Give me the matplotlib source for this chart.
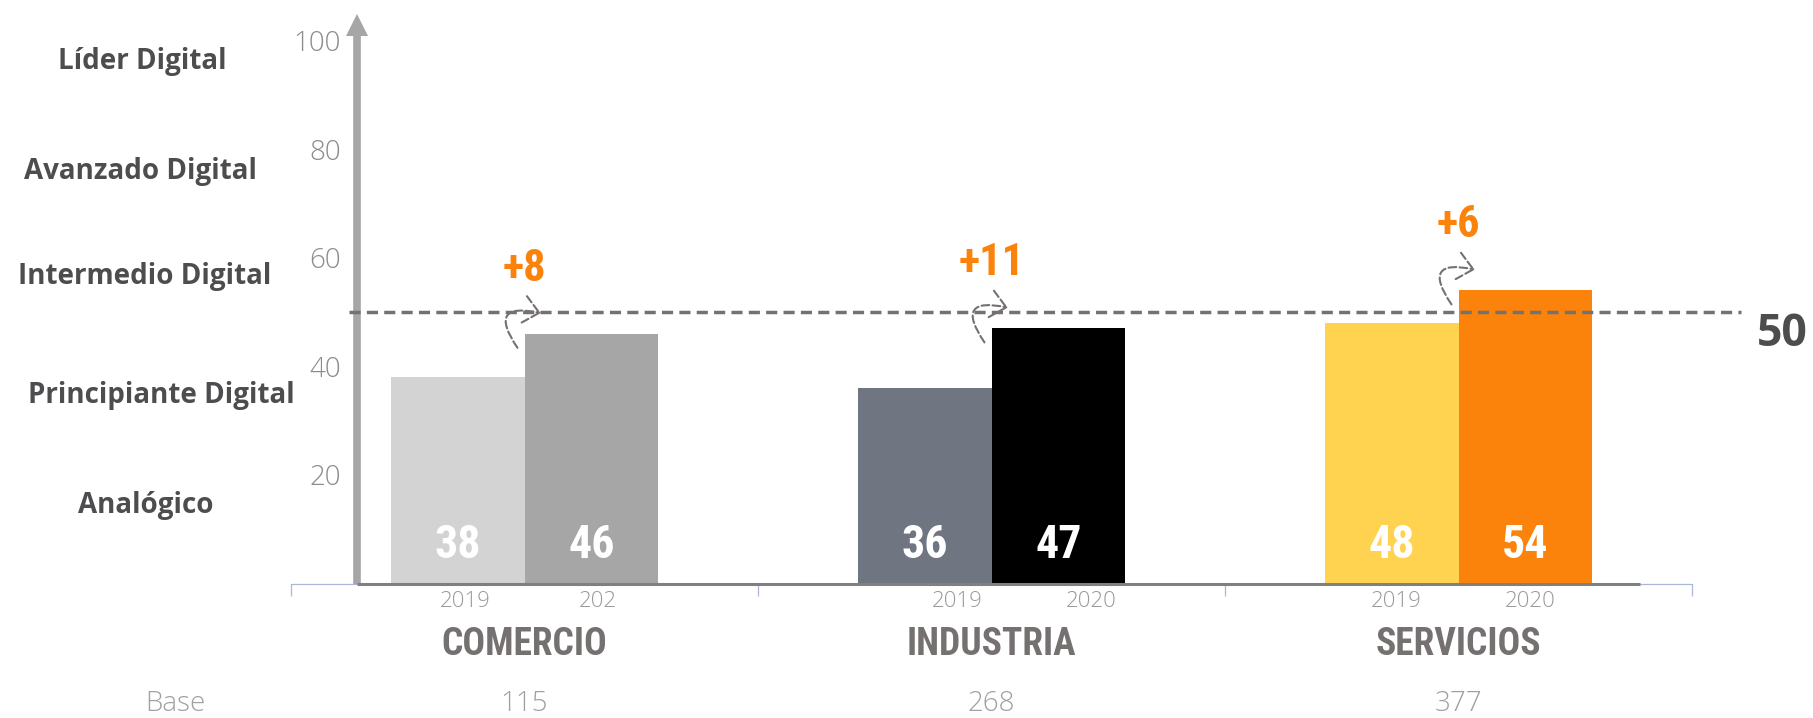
import matplotlib
matplotlib.use("Agg")
import matplotlib.pyplot as plt
from matplotlib import font_manager
import numpy as np

# índice de madurez digital por sector, 2019 vs 2020
sectors = ["COMERCIO", "INDUSTRIA", "SERVICIOS"]
bases = [115, 268, 377]
year_labels = [["2019", "202"], ["2019", "2020"], ["2019", "2020"]]
score_2019 = [38, 36, 48]
score_2020 = [46, 47, 54]
colors_2019 = ["#d3d3d3", "#6f7681", "#ffd34f"]
colors_2020 = ["#a6a6a6", "#000000", "#fb830b"]

levels = ["Líder Digital", "Avanzado Digital", "Intermedio Digital",
          "Principiante Digital", "Analógico"]
yticks = [20, 40, 60, 80, 100]
threshold = 50

# layout (pixels / data units)
W, H = 1813, 718
PX_X = 467.0   # pixels per category
PX_Y = 5.43    # pixels per point of score
level_y = [96.2, 75.9, 56.5, 34.7, 14.4]
level_px = [142, 140, 145, 161, 146]
year_shift = [0.015, 0.07, 0.01]

plt.rcParams['font.family'] = ['Open Sans', 'DejaVu Sans']

# narrow bold face for the numbers, if one is installed
installed = {f.name for f in font_manager.fontManager.ttflist}
narrow = next((n for n in ['Liberation Sans Narrow', 'Roboto Condensed',
                           'DejaVu Sans Condensed', 'Roboto'] if n in installed), 'DejaVu Sans')
BOLD_NUM = [narrow, 'DejaVu Sans']

fig = plt.figure(figsize=(W / 100, H / 100), dpi=100)
ymax = 105.5
ax = fig.add_axes([291 / W, 134.5 / H, 3 * PX_X / W, ymax * PX_Y / H])
ax.set_xlim(-0.5, 2.5)
ax.set_ylim(0, ymax)


def to_x(px):
    return (px - 524.5) / PX_X


x = np.arange(len(sectors))
w = 0.286
ax.bar(x - w / 2, score_2019, w, color=colors_2019, zorder=2)
ax.bar(x + w / 2, score_2020, w, color=colors_2020, zorder=2)

# bar values
for i in range(len(sectors)):
    for xc, v in [(x[i] - w / 2, score_2019[i]), (x[i] + w / 2, score_2020[i])]:
        ax.text(xc, 7, str(v), ha='center', va='center', color='white',
                fontsize=33, fontweight='bold', family=BOLD_NUM, zorder=5)

# vertical axis with arrow head
x_axis = to_x(357)
ax.vlines(x_axis, 0, 101.5, color='#a6a6a6', lw=5.5, zorder=3)
ax.plot([x_axis], [102.9], marker='^', ms=16.5, color='#a6a6a6', mew=0,
        clip_on=False, zorder=3)

# baseline
ax.hlines(0, x_axis, to_x(1640), color='#808080', lw=2.2, zorder=3, clip_on=False)

for s in ['top', 'right', 'left']:
    ax.spines[s].set_visible(False)
ax.spines['bottom'].set_color('#a9b8d7')
ax.spines['bottom'].set_linewidth(0.9)
ax.set_xticks([-0.5, 0.5, 1.5, 2.5])
ax.set_xticklabels([])
ax.tick_params(axis='x', length=8.5, width=0.9, color='#a9b8d7', direction='out')

ax.set_yticks(yticks)
ax.set_yticklabels([str(t) for t in yticks], fontweight='light')
ax.tick_params(axis='y', length=0, pad=-36, labelsize=20, labelcolor='#8c8c8c')

# reference line at 50
ax.hlines(threshold, to_x(349), to_x(1741), colors='#767171', lw=2.5,
          linestyles=(0, (3.2, 1.8)), zorder=4, clip_on=False)
ax.text(to_x(1782), 45.8, str(threshold), ha='center', va='center',
        fontsize=32, fontweight='bold', color='#4d4d4f')

# change 2019 -> 2020 with curved arrow
for i in range(len(sectors)):
    v1, v2 = score_2019[i], score_2020[i]
    ax.text(x[i], v2 + 12, f"+{v2 - v1}", ha='center', va='center',
            fontsize=32, fontweight='bold', family=BOLD_NUM, color='#fb830b')
    ax.annotate('', xy=(x[i] + 0.035, v2 + 3.8), xytext=(x[i] - 0.015, v2 - 2.6),
                arrowprops=dict(arrowstyle='->,head_length=0.4,head_width=0.35',
                                connectionstyle='arc3,rad=-1.25', linestyle='--',
                                lw=1.5, color='#767171', mutation_scale=28,
                                shrinkA=0, shrinkB=0),
                zorder=5, annotation_clip=False)

# year, sector and base labels under the bars
for i in range(len(sectors)):
    for j, xc in enumerate([x[i] - w / 2, x[i] + w / 2]):
        ax.text(xc + year_shift[i], -3.4, year_labels[i][j], ha='center', va='center',
                fontsize=16, fontweight='light', color='#999999')
    ax.text(x[i], -11.3, sectors[i], ha='center', va='center', fontsize=27,
            fontweight='bold', family=BOLD_NUM, color='#767171')
    ax.text(x[i], -22.2, str(bases[i]), ha='center', va='center', fontsize=20,
            fontweight='light', color='#a0a0a0')
ax.text(to_x(175), -22.2, "Base", ha='center', va='center', fontsize=20,
        fontweight='light', color='#a0a0a0')

# maturity levels on the left
for lab, yy, px in zip(levels, level_y, level_px):
    ax.text(to_x(px), yy, lab, ha='center', va='center', fontsize=20,
            fontweight='bold', color='#4d4d4f')

fig.savefig("out.png", dpi=100)
